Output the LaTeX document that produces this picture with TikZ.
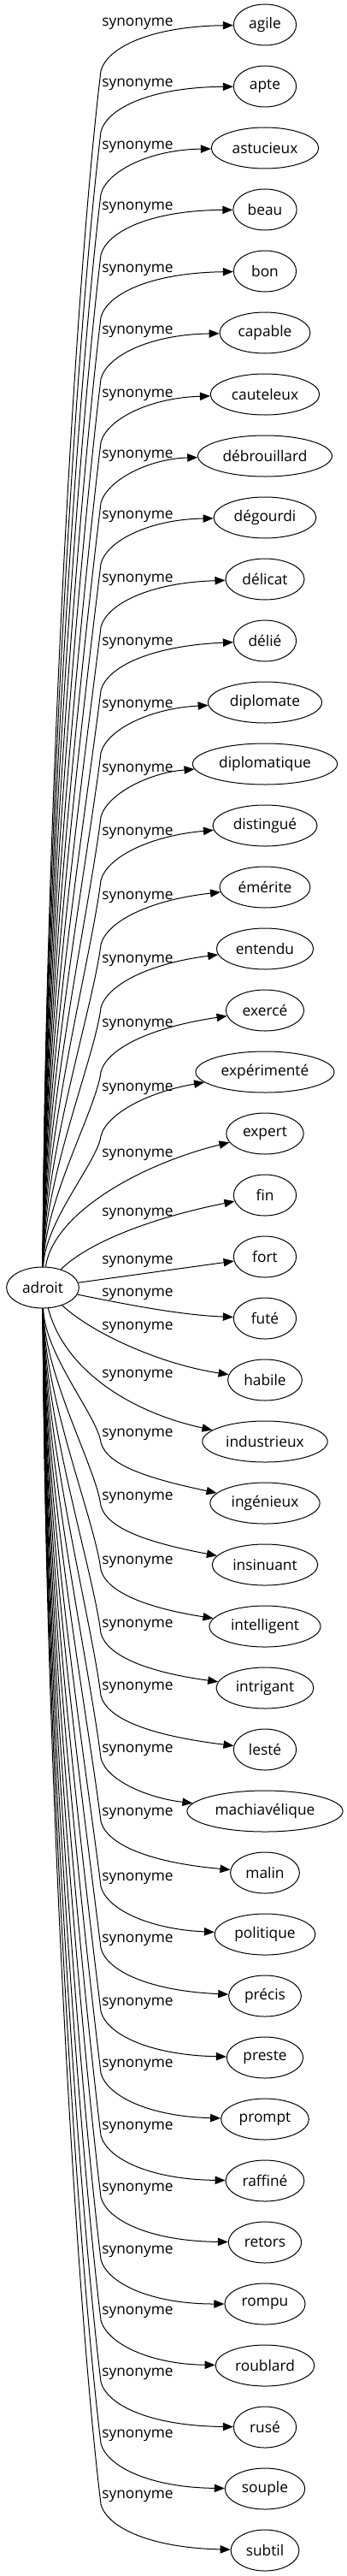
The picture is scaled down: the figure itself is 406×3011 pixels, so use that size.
\documentclass[tikz,border=0pt]{standalone}
\usepackage{fontspec}
\setmainfont{Open Sans}
\usepackage{tikz}
\usetikzlibrary{arrows.meta, shapes.geometric}

\tikzset{
  motnode/.style={draw, ellipse, line width=0.75pt, minimum height=36pt,
                  minimum width=55pt, inner xsep=4.5pt, inner ysep=0pt,
                  font=\fontsize{13}{15}\selectfont},
  synedge/.style={line width=0.75pt, -{Triangle[length=9pt, width=7pt]}},
  synlabel/.style={inner sep=0pt, font=\fontsize{13}{15}\selectfont},
}

\begin{document}
\begin{tikzpicture}[x=0.75pt, y=-0.75pt]
    \useasboundingbox (0,0) rectangle (406,3011);

    % ROOT WORD
    \node[motnode] (adroit) at (50,1505) {adroit};

    % SYNONYMS
    \foreach \nm/\txt [count=\i from 0] in {agile/agile, apte/apte,
        astucieux/astucieux, beau/beau, bon/bon, capable/capable,
        cauteleux/cauteleux, debrouillard/débrouillard, degourdi/dégourdi,
        delicat/délicat, delie/délié, diplomate/diplomate,
        diplomatique/diplomatique, distingue/distingué, emerite/émérite,
        entendu/entendu, exerce/exercé, experimente/expérimenté,
        expert/expert, fin/fin, fort/fort, fute/futé, habile/habile,
        industrieux/industrieux, ingenieux/ingénieux, insinuant/insinuant,
        intelligent/intelligent, intrigant/intrigant, leste/lesté,
        machiavelique/machiavélique, malin/malin, politique/politique,
        precis/précis, preste/preste, prompt/prompt, raffine/raffiné,
        retors/retors, rompu/rompu, roublard/roublard, ruse/rusé,
        souple/souple, subtil/subtil}
        \node[motnode] (\nm) at (310,{29+72*\i}) {\txt};

    % EDGE LABELS
    \foreach \ly [count=\i from 0] in {28,99,172,243,316,388,462,533,604,
        678,752,825,900,974,1049,1123,1198,1273,1350,1419,1475,1513,1552,
        1608,1677,1751,1826,1900,1973,2046,2120,2196,2268,2342,2414,2487,
        2559,2632,2703,2775,2847,2918}
        \node[synlabel] (lab\i) at (161,\ly) {synonyme};

    % EDGES ABOVE ROOT: trunk, then bend to the word
    \foreach \nm/\ly in {agile/28, apte/99, astucieux/172, beau/243,
        bon/316, capable/388, cauteleux/462, debrouillard/533,
        degourdi/604, delicat/678, delie/752, diplomate/825,
        diplomatique/900, distingue/974, emerite/1049, entendu/1123,
        exerce/1198, experimente/1273} {
        \pgfmathsetmacro\yb{\ly+55}
        \pgfmathsetmacro\len{1482-\yb}
        \pgfmathsetmacro\ca{1482-0.35*\len}
        \pgfmathsetmacro\cbx{118-0.023*\len}
        \pgfmathsetmacro\cby{\yb+0.19*\len}
        \draw[synedge] (adroit) .. controls (52,\ca) and (\cbx,\cby)
            .. (118,\yb) .. controls (125,{\yb-27}) and (175,{\ly+3})
            .. (\nm);
    }

    % EDGES NEAR ROOT
    \draw[synedge] (adroit) .. controls (62,1420) and (160,1362) .. (expert);
    \draw[synedge] (adroit) .. controls (100,1455) and (170,1425) .. (fin);
    \draw[synedge] (adroit) -- (fort);
    \draw[synedge] (adroit) .. controls (150,1525) and (210,1537) .. (fute);
    \draw[synedge] (adroit) .. controls (110,1560) and (190,1595) .. (habile);
    \draw[synedge] (adroit) .. controls (75,1600) and (150,1650) .. (industrieux);

    % EDGES BELOW ROOT
    \foreach \nm/\ly [count=\i from 24] in {ingenieux/1677, insinuant/1751,
        intelligent/1826, intrigant/1900, leste/1973, machiavelique/2046,
        malin/2120, politique/2196, precis/2268, preste/2342,
        prompt/2414, raffine/2487, retors/2559, rompu/2632,
        roublard/2703, ruse/2775, souple/2847, subtil/2918} {
        \pgfmathsetmacro\yt{29+72*\i}
        \pgfmathsetmacro\yb{\ly+9}
        \pgfmathsetmacro\len{\yb-1528}
        \pgfmathsetmacro\ca{1528+0.35*\len}
        \pgfmathsetmacro\cbx{118-0.023*\len}
        \pgfmathsetmacro\cby{\yb-0.19*\len}
        \pgfmathsetmacro\cd{\yt+1.5*(\ly-\yt+61)}
        \draw[synedge] (adroit) .. controls (52,\ca) and (\cbx,\cby)
            .. (118,\yb) .. controls (125,{\yb+27}) and (175,\cd)
            .. (\nm);
    }

\end{tikzpicture}
\end{document}
